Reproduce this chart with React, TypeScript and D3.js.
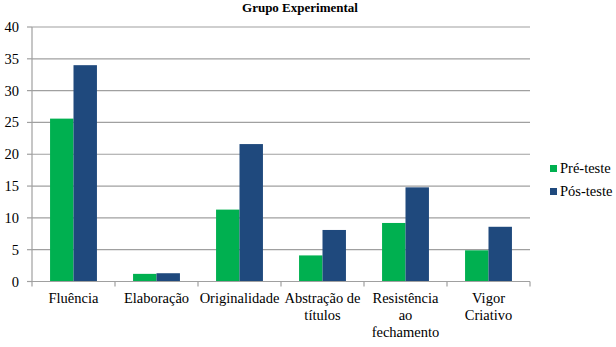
import React from "react";
import * as d3 from "d3";

const categories = ["Fluência", "Elaboração", "Originalidade", "Abstração de títulos", "Resistência ao fechamento", "Vigor Criativo"];
const categoryLines = [["Fluência"], ["Elaboração"], ["Originalidade"], ["Abstração de", "títulos"], ["Resistência", "ao", "fechamento"], ["Vigor", "Criativo"]];
const seriesNames = ["Pré-teste", "Pós-teste"];
const preTeste = [25.6, 1.2, 11.3, 4.1, 9.2, 4.9];
const posTeste = [34.0, 1.3, 21.6, 8.1, 14.8, 8.6];
const yTicks = [0, 5, 10, 15, 20, 25, 30, 35, 40];
const colors = ["#00B050", "#1F497D"];

const font = "Liberation Serif, Times New Roman, serif";
const axisColor = "#a0a0a0";

const App = () => {
  const left = 32, right = 530, top = 27, bottom = 281.5;

  const x0 = d3.scaleBand().domain(categories).range([left, right]).padding(0);
  const x1 = d3.scaleBand().domain(seriesNames).range([0, x0.bandwidth()]).paddingInner(0).paddingOuter(0.77);
  const y = d3.scaleLinear().domain([0, 40]).range([bottom, top]);
  const series = [preTeste, posTeste];
  const bounds = categories.map((c) => x0(c) ?? 0).concat([right]);

  return (
    <div>
      <svg width={616} height={347} style={{ position: "absolute", left: 0, top: 0, background: "#fff" }}>
        <text x={300} y={12} textAnchor="middle" fontFamily={font} fontWeight="bold" fontSize={13}>
          Grupo Experimental
        </text>

        {/* gridlines */}
        {yTicks.filter((t) => t > 0).map((t) => (
          <line key={t} x1={left} x2={right} y1={y(t)} y2={y(t)} stroke={axisColor} strokeWidth={1.2} />
        ))}

        {/* y axis */}
        <line x1={left} x2={left} y1={top} y2={bottom} stroke={axisColor} strokeWidth={1.2} />
        {yTicks.map((t) => (
          <g key={t}>
            <line x1={left - 5} x2={left} y1={y(t)} y2={y(t)} stroke={axisColor} strokeWidth={1.2} />
            <text x={left - 13} y={y(t) + 5} textAnchor="end" fontFamily={font} fontSize={14.5}>{t}</text>
          </g>
        ))}

        {/* bars */}
        {series.map((values, si) =>
          values.map((v, i) => (
            <rect
              key={`${si}-${i}`}
              x={(x0(categories[i]) ?? 0) + (x1(seriesNames[si]) ?? 0)}
              width={x1.bandwidth()}
              y={y(v)}
              height={bottom - y(v)}
              fill={colors[si]}
            />
          ))
        )}

        {/* x axis */}
        <line x1={left} x2={right} y1={bottom} y2={bottom} stroke={axisColor} strokeWidth={1.2} />
        {bounds.map((b) => (
          <line key={b} x1={b} x2={b} y1={bottom} y2={bottom + 5} stroke={axisColor} strokeWidth={1.2} />
        ))}
        {categoryLines.map((lines, i) => {
          const cx = (x0(categories[i]) ?? 0) + x0.bandwidth() / 2;
          return (
            <text key={categories[i]} textAnchor="middle" fontFamily={font} fontSize={14.5}>
              {lines.map((ln, li) => (
                <tspan key={li} x={cx} y={303 + li * 17}>{ln}</tspan>
              ))}
            </text>
          );
        })}

        {/* legend */}
        {seriesNames.map((name, i) => {
          const ly = 168 + i * 23;
          return (
            <g key={name}>
              <rect x={550} y={ly - 3} width={7} height={7} fill={colors[i]} />
              <text x={560} y={ly + 5} fontFamily={font} fontSize={14.5}>{name}</text>
            </g>
          );
        })}
      </svg>
    </div>
  );
};

export default App;
